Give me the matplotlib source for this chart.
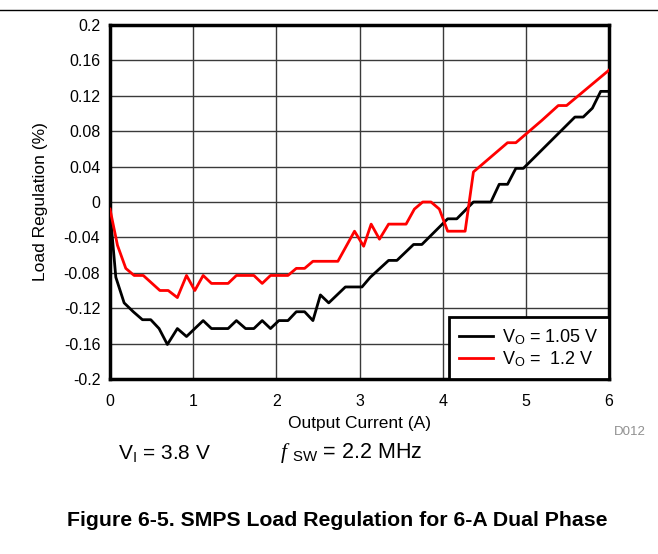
import matplotlib
matplotlib.use("Agg")
import matplotlib.pyplot as plt
from matplotlib.lines import Line2D

plt.rcParams['font.family'] = ['Liberation Sans', 'DejaVu Sans']
plt.rcParams['mathtext.fontset'] = 'custom'
plt.rcParams['mathtext.rm'] = 'Liberation Sans'
plt.rcParams['mathtext.it'] = 'Liberation Serif:italic'
plt.rcParams['mathtext.bf'] = 'Liberation Sans:bold'

# Data
x_105 = [0.0, 0.07, 0.17, 0.28, 0.39, 0.49, 0.59, 0.69, 0.81, 0.92, 1.02, 1.12, 1.22,
         1.42, 1.52, 1.63, 1.73, 1.83, 1.93, 2.03, 2.14, 2.24, 2.34, 2.44, 2.53, 2.63,
         2.83, 3.03, 3.13, 3.35, 3.45, 3.65, 3.75, 4.06, 4.17, 4.37, 4.58, 4.68, 4.78,
         4.88, 4.97, 5.59, 5.69, 5.80, 5.90, 6.0]
y_105 = [-0.010, -0.085, -0.114, -0.124, -0.133, -0.133, -0.143, -0.161, -0.143, -0.152,
         -0.143, -0.134, -0.143, -0.143, -0.134, -0.143, -0.143, -0.134, -0.143, -0.134,
         -0.134, -0.124, -0.124, -0.134, -0.105, -0.114, -0.096, -0.096, -0.085, -0.066,
         -0.066, -0.048, -0.048, -0.019, -0.019, 0.0, 0.0, 0.020, 0.020, 0.038, 0.038,
         0.096, 0.096, 0.106, 0.125, 0.125]

x_12 = [0.0, 0.09, 0.19, 0.29, 0.40, 0.60, 0.70, 0.81, 0.92, 1.02, 1.12, 1.22, 1.42,
        1.52, 1.73, 1.83, 1.93, 2.14, 2.24, 2.34, 2.44, 2.74, 2.94, 3.05, 3.14, 3.24,
        3.35, 3.56, 3.66, 3.76, 3.86, 3.96, 4.06, 4.27, 4.37, 4.78, 4.88, 5.19, 5.39,
        5.49, 6.0]
y_12 = [-0.008, -0.049, -0.075, -0.083, -0.083, -0.100, -0.100, -0.108, -0.083, -0.100,
        -0.083, -0.092, -0.092, -0.083, -0.083, -0.092, -0.083, -0.083, -0.075, -0.075,
        -0.067, -0.067, -0.033, -0.050, -0.025, -0.042, -0.025, -0.025, -0.008, 0.0,
        0.0, -0.008, -0.033, -0.033, 0.034, 0.067, 0.067, 0.092, 0.109, 0.109, 0.149]

x_ticks = [0, 1, 2, 3, 4, 5, 6]
y_ticks = [-0.2, -0.16, -0.12, -0.08, -0.04, 0, 0.04, 0.08, 0.12, 0.16, 0.2]
y_ticklabels = ['-0.2', '-0.16', '-0.12', '-0.08', '-0.04', '0', '0.04', '0.08', '0.12', '0.16', '0.2']
labels = [r'V$_\mathregular{O}$ = 1.05 V', r'V$_\mathregular{O}$ =  1.2 V']

fig = plt.figure(figsize=(6.58, 5.54), dpi=100)
ax = fig.add_axes([110/658, 1 - 379/554, (609 - 110)/658, (379 - 25)/554])

ax.plot(x_105, y_105, color='black', lw=2.0, zorder=3)
ax.plot(x_12, y_12, color='#ff0000', lw=2.0, zorder=4)

ax.set_xlim(0, 6)
ax.set_ylim(-0.2, 0.2)
ax.set_xticks(x_ticks)
ax.set_yticks(y_ticks)
ax.set_yticklabels(y_ticklabels)
ax.tick_params(length=0, labelsize=11.5)
ax.tick_params(axis='x', pad=10.5)
ax.tick_params(axis='y', pad=7)
ax.grid(True, color='#3a3a3a', lw=1.0)
ax.set_axisbelow(True)
for s in ax.spines.values():
    s.set_linewidth(2.5)
    s.set_color('black')

ax.set_xlabel('Output Current (A)', fontsize=12.5, labelpad=5)
ax.set_ylabel('Load Regulation (%)', fontsize=12.5, labelpad=11)

handles = [Line2D([], [], color='black', lw=2), Line2D([], [], color='#ff0000', lw=2)]
leg = ax.legend(handles, labels, loc='lower right', borderaxespad=0, fontsize=13,
                fancybox=False, handlelength=1.9, handletextpad=0.5,
                labelspacing=0.15, borderpad=0.55, framealpha=1)
leg.get_frame().set_edgecolor('black')
leg.get_frame().set_linewidth(2.0)

fig.add_artist(Line2D([0, 1], [1 - 10/554, 1 - 10/554], color='black', lw=1.0,
                      transform=fig.transFigure))

fig.text(630/658, 1 - 432/554, 'D012', fontsize=9.5, color='#909090', ha='center', va='center')
fig.text(118/658, 1 - 453/554, r'V$_\mathregular{I}$ = 3.8 V', fontsize=15, ha='left', va='center')
fig.text(280/658, 1 - 453/554, r'$f$ $_\mathregular{SW}$ = 2.2 MHz', fontsize=15.5, ha='left', va='center')
fig.text(337/658, 1 - 521/554, 'Figure 6-5. SMPS Load Regulation for 6-A Dual Phase',
         fontsize=15.3, fontweight='bold', ha='center', va='center')

fig.savefig('out.png', dpi=100)
